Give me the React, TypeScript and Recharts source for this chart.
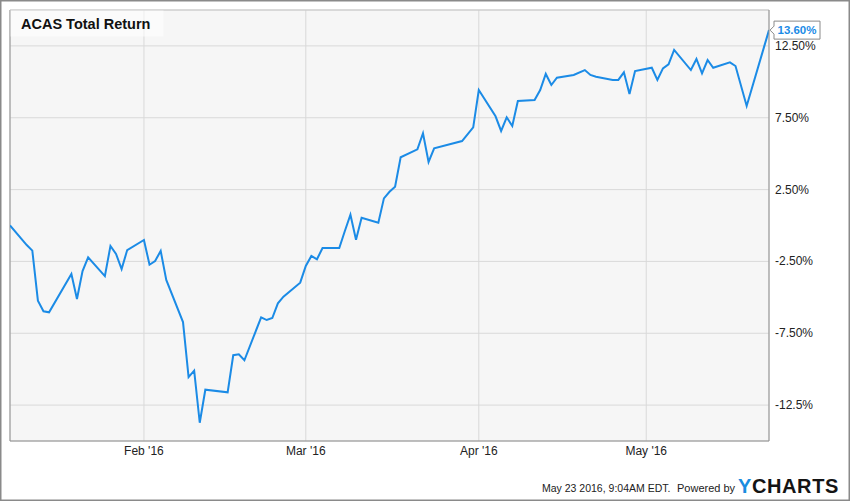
import React from 'react';
import { LineChart, Line, XAxis, YAxis, CartesianGrid, ReferenceLine } from 'recharts';

const dates = [
  '2016-01-08', '2016-01-11', '2016-01-12', '2016-01-13', '2016-01-14', '2016-01-15',
  '2016-01-19', '2016-01-20', '2016-01-21', '2016-01-22', '2016-01-25', '2016-01-26',
  '2016-01-27', '2016-01-28', '2016-01-29', '2016-02-01', '2016-02-02', '2016-02-03',
  '2016-02-04', '2016-02-05', '2016-02-08', '2016-02-09', '2016-02-10', '2016-02-11',
  '2016-02-12', '2016-02-16', '2016-02-17', '2016-02-18', '2016-02-19', '2016-02-22',
  '2016-02-23', '2016-02-24', '2016-02-25', '2016-02-26', '2016-02-29', '2016-03-01',
  '2016-03-02', '2016-03-03', '2016-03-04', '2016-03-07', '2016-03-08', '2016-03-09',
  '2016-03-10', '2016-03-11', '2016-03-14', '2016-03-15', '2016-03-16', '2016-03-17',
  '2016-03-18', '2016-03-21', '2016-03-22', '2016-03-23', '2016-03-24', '2016-03-29',
  '2016-03-31', '2016-04-01', '2016-04-04', '2016-04-05', '2016-04-06', '2016-04-07',
  '2016-04-08', '2016-04-11', '2016-04-12', '2016-04-13', '2016-04-14', '2016-04-15',
  '2016-04-18', '2016-04-20', '2016-04-21', '2016-04-22', '2016-04-25', '2016-04-26',
  '2016-04-27', '2016-04-28', '2016-04-29', '2016-05-02', '2016-05-03', '2016-05-04',
  '2016-05-05', '2016-05-06', '2016-05-09', '2016-05-10', '2016-05-11', '2016-05-12',
  '2016-05-13', '2016-05-16', '2016-05-17', '2016-05-19', '2016-05-23',
];

const totalReturn = [
  0.0, -1.36, -1.75, -5.23, -5.97, -6.04,
  -3.38, -5.12, -3.17, -2.22, -3.52, -1.43,
  -1.98, -3.03, -1.71, -1.01, -2.73, -2.47,
  -1.77, -3.79, -6.72, -10.55, -10.1, -13.73,
  -11.43, -11.61, -9.03, -8.97, -9.38, -6.39,
  -6.58, -6.44, -5.42, -4.95, -3.98, -2.82,
  -2.12, -2.35, -1.57, -1.57, -0.38, 0.75,
  -0.99, 0.54, 0.19, 1.89, 2.35, 2.7,
  4.75, 5.3, 6.42, 4.42, 5.37, 5.88,
  6.83, 9.43, 7.6, 6.58, 7.53, 6.93,
  8.67, 8.74, 9.43, 10.55, 9.78, 10.29,
  10.48, 10.82, 10.48, 10.36, 10.13, 10.13,
  10.66, 9.15, 10.75, 10.98, 10.13, 10.94,
  11.22, 12.22, 10.82, 11.59, 10.59, 11.52,
  10.98, 11.36, 11.1, 8.32, 13.6,
];

const xTickDates = ['2016-02-01', '2016-03-01', '2016-04-01', '2016-05-01'];
const xTickLabels = ["Feb '16", "Mar '16", "Apr '16", "May '16"];
const yTicks = [-12.5, -7.5, -2.5, 2.5, 7.5, 12.5];
const yTickLabels = ['-12.5%', '-7.50%', '-2.50%', '2.50%', '7.50%', '12.50%'];
const xDomainDates = ['2016-01-08', '2016-05-23'];
const yDomain = [-15, 15];

const title = 'ACAS Total Return';
const footerStamp = 'May 23 2016, 9:04AM EDT.';
const poweredBy = 'Powered by';

const toTs = (d: string) =>
  Date.UTC(Number(d.slice(0, 4)), Number(d.slice(5, 7)) - 1, Number(d.slice(8, 10)));

const data = dates.map((d, i) => ({ t: toTs(d), v: totalReturn[i] }));
const xTicks = xTickDates.map(toTs);
const xDomain = xDomainDates.map(toTs);

const LINE_COLOR = '#1b8be6';
const FONT = '"Liberation Sans", Arial, sans-serif';

const XTick = (props: any) => {
  const { x, y, payload } = props;
  const idx = xTicks.indexOf(payload.value);
  return (
    <text x={x} y={y + 14} textAnchor="middle" fontSize={12} fill="#222" fontFamily={FONT}>
      {idx >= 0 ? xTickLabels[idx] : ''}
    </text>
  );
};

const YTick = (props: any) => {
  const { y, payload } = props;
  const idx = yTicks.indexOf(payload.value);
  return (
    <text x={775} y={y + 4} textAnchor="start" fontSize={12} fill="#222" fontFamily={FONT}>
      {idx >= 0 ? yTickLabels[idx] : ''}
    </text>
  );
};

const LastLabel = (props: any) => {
  const { x, y, index, value } = props;
  if (index !== data.length - 1) return null;
  const bx = x + 5;
  const bw = 46;
  const bh = 18;
  const d = `M${x + 1},${y} L${bx},${y - 4} L${bx},${y - bh / 2} L${bx + bw},${y - bh / 2} L${bx + bw},${y + bh / 2} L${bx},${y + bh / 2} L${bx},${y + 4} Z`;
  return (
    <g>
      <path d={d} fill="#ffffff" stroke="#8a8a8a" strokeWidth={1} />
      <text
        x={bx + bw / 2}
        y={y + 4}
        textAnchor="middle"
        fontSize={11.5}
        fontWeight="bold"
        fill={LINE_COLOR}
        fontFamily={FONT}
      >
        {Number(value).toFixed(2)}%
      </text>
    </g>
  );
};

export default function App() {
  return (
    <div style={{ position: 'absolute', left: 0, top: 0, width: 850, height: 501, background: '#fff', fontFamily: FONT }}>
      <LineChart
        width={850}
        height={501}
        data={data}
        margin={{ top: 10, right: 0, bottom: 0, left: 10 }}
        style={{ fontFamily: FONT }}
      >
        <CartesianGrid stroke="#d9d9d9" fill="#f6f6f6" strokeWidth={1} />
        <XAxis
          dataKey="t"
          type="number"
          domain={xDomain}
          ticks={xTicks}
          allowDataOverflow
          height={60}
          tickSize={0}
          tickMargin={0}
          axisLine={{ stroke: '#8f8f8f' }}
          tickLine={false}
          tick={<XTick />}
        />
        <YAxis
          orientation="right"
          type="number"
          domain={yDomain}
          ticks={yTicks}
          allowDataOverflow
          width={81}
          tickSize={0}
          tickLine={false}
          axisLine={{ stroke: '#8f8f8f' }}
          tick={<YTick />}
        />
        <ReferenceLine x={xDomain[0]} stroke="#8f8f8f" ifOverflow="visible" />
        <ReferenceLine y={yDomain[1]} stroke="#c8c8c8" ifOverflow="visible" />
        <Line
          type="linear"
          dataKey="v"
          stroke={LINE_COLOR}
          strokeWidth={2}
          dot={false}
          activeDot={false}
          isAnimationActive={false}
          label={<LastLabel />}
        />
      </LineChart>
      <svg
        width={850}
        height={501}
        style={{ position: 'absolute', left: 0, top: 0, pointerEvents: 'none' }}
      >
        <rect x={10.5} y={10.5} width={153} height={26} fill="rgba(255,255,255,0.55)" />
        <text x={21} y={29} fontSize={14.5} fontWeight="bold" fill="#111" fontFamily={FONT}>
          {title}
        </text>
        <text x={542} y={492} fontSize={10.5} fill="#222" fontFamily={FONT}>
          {footerStamp}
        </text>
        <text x={677} y={492} fontSize={11} fill="#222" fontFamily={FONT}>
          {poweredBy}
        </text>
        <text x={738} y={493} fontSize={20} fontWeight="bold" fontFamily={FONT} letterSpacing={0.6}>
          <tspan fill="#1a8de0">Y</tspan>
          <tspan fill="#141414">CHARTS</tspan>
        </text>
        <rect x={0.5} y={0.5} width={849} height={500} fill="none" stroke="#8a8a8a" strokeWidth={2} />
      </svg>
    </div>
  );
}
